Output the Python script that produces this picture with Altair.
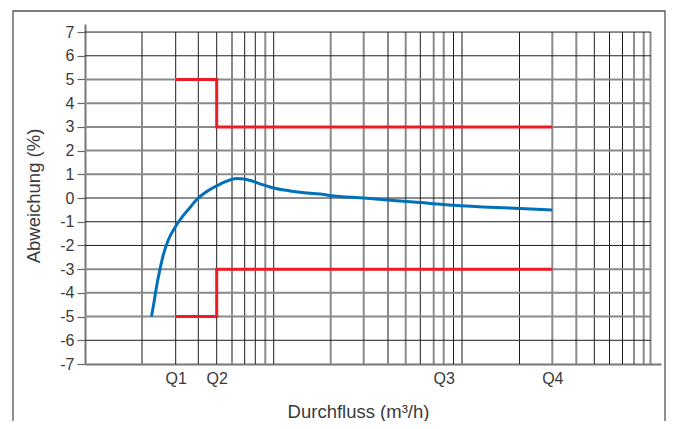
import altair as alt
import pandas as pd

# positions along the flow axis (chart units, linear, hand-drawn log-like paper)
grid_x = [57, 90.7, 113.3, 131.7, 147, 159.7, 170.3, 180.3, 188.7, 245.7, 278.7, 303,
          320.7, 335.3, 348.7, 358.7, 368.5, 377, 434.5, 467.3, 491.3, 509.3, 524.5,
          537.5, 549, 558.7, 565.5]
grid_dark = [0, 1, 1, 1, 0, 1, 1, 0, 1, 0, 0, 0, 0, 1, 0, 0, 1, 0, 1, 0, 0, 1, 1, 1, 1, 0, 0]
hgrid_y = [7, 6, 5, 4, 3, 2, 1, 0, -1, -2, -3, -4, -5, -6]
hgrid_dark = [1, 1, 0, 0, 0, 0, 0, 1, 1, 1, 0, 0, 0, 1]
y_ticks = [7, 6, 5, 4, 3, 2, 1, 0, -1, -2, -3, -4, -5, -6, -7]

q_pos = [90.7, 131.7, 358.7, 467.3]
q_labels = ["Q1", "Q2", "Q3", "Q4"]

limit_x = [90.7, 131.7, 131.7, 467.3]
limit_upper = [5, 5, 3, 3]
limit_lower = [-5, -5, -3, -3]

curve_x = [66.5, 69, 71.7, 75, 78.3, 83, 90.5, 98, 105, 112, 121, 131.7, 141, 151.7, 159,
           167, 175, 181.7, 188.7, 205, 215, 235, 245, 279, 335, 368, 435, 467.3]
curve_y = [-5.0, -4.4, -3.7, -3.0, -2.4, -1.8, -1.2, -0.75, -0.4, -0.05, 0.25, 0.51, 0.7,
           0.82, 0.8, 0.72, 0.6, 0.51, 0.42, 0.30, 0.24, 0.17, 0.11, 0.0, -0.19, -0.30,
           -0.44, -0.51]

GRID_END = 565.5
TEXT = "#3a3a3a"
FONT = "Liberation Sans"

vgrid = pd.DataFrame({"x": grid_x, "dark": grid_dark, "y1": 7, "y2": -7})
hgrid = pd.DataFrame({"y": hgrid_y, "dark": hgrid_dark, "x1": 0.0, "x2": GRID_END})
limits = pd.DataFrame({
    "x": limit_x + limit_x,
    "y": limit_upper + limit_lower,
    "series": ["upper"] * 4 + ["lower"] * 4,
    "idx": list(range(4)) + list(range(4)),
})
curve = pd.DataFrame({"x": curve_x, "y": curve_y})

xlab_expr = "[" + ",".join(f"'{l}'" for l in q_labels) + "][indexof([" + \
    ",".join(str(v) for v in q_pos) + "], datum.value)]"

x_scale = alt.Scale(domain=[0, 576], nice=False, zero=False)
y_scale = alt.Scale(domain=[-7, 7.34], nice=False, zero=False)

x_axis = alt.Axis(title="Durchfluss (m³/h)", values=q_pos, labelExpr=xlab_expr,
                  labelOverlap=False)
y_axis = alt.Axis(title="Abweichung (%)", values=y_ticks, labelOverlap=False,
                  labelExpr="datum.value < 0 ? '-' + abs(datum.value) : '' + datum.value")

frame = alt.Chart(pd.DataFrame({"a": [0]})).mark_rect(
    fillOpacity=0, stroke="#555555", strokeWidth=1.3
).encode(x=alt.value(-72), x2=alt.value(580), y=alt.value(-13), y2=alt.value(410))

vg_gray = alt.Chart(vgrid).transform_filter("datum.dark == 0").mark_rule(
    color="#8a8a8a", strokeWidth=2
).encode(
    x=alt.X("x:Q", scale=x_scale, axis=x_axis),
    y=alt.Y("y1:Q", scale=y_scale, axis=y_axis),
    y2="y2:Q",
)
vg_dark = alt.Chart(vgrid).transform_filter("datum.dark == 1").mark_rule(
    color="#1e1e1e", strokeWidth=1
).encode(x=alt.X("x:Q", axis=x_axis), y=alt.Y("y1:Q", axis=y_axis), y2="y2:Q")

hg_gray = alt.Chart(hgrid).transform_filter("datum.dark == 0").mark_rule(
    color="#8a8a8a", strokeWidth=2
).encode(y=alt.Y("y:Q", axis=y_axis), x=alt.X("x1:Q", axis=x_axis), x2="x2:Q")
hg_dark = alt.Chart(hgrid).transform_filter("datum.dark == 1").mark_rule(
    color="#1e1e1e", strokeWidth=1
).encode(y=alt.Y("y:Q", axis=y_axis), x=alt.X("x1:Q", axis=x_axis), x2="x2:Q")

red = alt.Chart(limits).mark_line(color="#ee1c25", strokeWidth=3, strokeJoin="miter").encode(
    x=alt.X("x:Q", axis=x_axis), y=alt.Y("y:Q", axis=y_axis), detail="series:N", order="idx:Q"
)
blue = alt.Chart(curve).mark_line(color="#0070bb", strokeWidth=3, interpolate="monotone").encode(
    x=alt.X("x:Q", axis=x_axis), y=alt.Y("y:Q", axis=y_axis)
)

chart = alt.layer(frame, vg_gray, vg_dark, hg_gray, hg_dark, red, blue).properties(
    width=576, height=340,
    padding={"left": 77, "top": 16, "right": 6, "bottom": 57},
    autosize=alt.AutoSizeParams(type="none"),
    background="white",
).configure_view(stroke=None).configure_axis(
    labelOverlap=False, labelFont=FONT, labelFontSize=16, labelColor=TEXT,
    titleFont=FONT, titleFontSize=18.5, titleFontWeight="normal", titleColor=TEXT,
    domainColor="#777777", domainWidth=2, grid=False,
).configure_axisX(
    ticks=False, tickSize=0, labelPadding=6,
    titleX=273, titleY=53, titleBaseline="alphabetic", titleAlign="center",
).configure_axisY(
    tickSize=8, tickColor="#666666", tickWidth=1.2, labelPadding=3,
    titleX=-46, titleY=171.5, titleBaseline="alphabetic", titleAlign="center", titleAngle=-90,
)

chart.save("out.html", embed_options={"renderer": "svg", "actions": False})
